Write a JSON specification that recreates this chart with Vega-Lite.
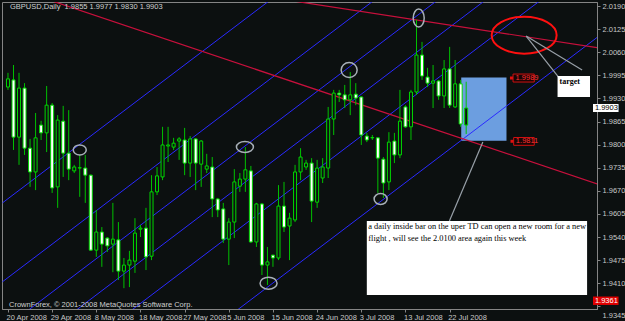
{
"$schema": "https://vega.github.io/schema/vega-lite/v6.json",
"width": 595, "height": 307,
"autosize": {"type": "none"},
"padding": {"left": 2, "top": 2, "right": 28, "bottom": 12},
"background": "#0c1010",
"config": {
 "view": {"stroke": "#858585", "strokeWidth": 1},
 "axis": {"grid": false, "domainColor": "#858585", "tickColor": "#858585", "labelColor": "#c8c8c8", "labelFont": "Liberation Sans", "labelFontSize": 7.5, "tickSize": 3, "labelOverlap": false, "labelFlush": false, "labelBound": false, "title": null},
 "axisX": {"labelAlign": "left", "labelPadding": 1, "labelOffset": -2},
 "axisY": {"labelPadding": 2, "labelBaseline": "middle"}
},
"datasets": {
 "candles": [
  {"i":0,"o":1.9962,"h":2.0002,"l":1.9954,"c":1.9985},
  {"i":1,"o":1.9982,"h":2.0024,"l":1.9785,"c":1.9821},
  {"i":2,"o":1.9821,"h":2.0002,"l":1.9743,"c":1.9959},
  {"i":3,"o":1.9959,"h":1.9973,"l":1.9771,"c":1.9790},
  {"i":4,"o":1.9790,"h":1.9816,"l":1.9681,"c":1.9723},
  {"i":5,"o":1.9723,"h":1.9889,"l":1.9672,"c":1.9819},
  {"i":6,"o":1.9855,"h":1.9867,"l":1.9813,"c":1.9833},
  {"i":7,"o":1.9833,"h":1.9965,"l":1.9779,"c":1.9911},
  {"i":8,"o":1.9911,"h":1.9917,"l":1.9664,"c":1.9678},
  {"i":9,"o":1.9681,"h":1.9883,"l":1.9622,"c":1.9869},
  {"i":10,"o":1.9866,"h":1.9909,"l":1.9709,"c":1.9776},
  {"i":11,"o":1.9776,"h":1.9897,"l":1.9700,"c":1.9731},
  {"i":12,"o":1.9726,"h":1.9743,"l":1.9720,"c":1.9737},
  {"i":13,"o":1.9734,"h":1.9771,"l":1.9653,"c":1.9735},
  {"i":14,"o":1.9734,"h":1.9771,"l":1.9636,"c":1.9714},
  {"i":15,"o":1.9714,"h":1.9716,"l":1.9501,"c":1.9503},
  {"i":16,"o":1.9503,"h":1.9616,"l":1.9484,"c":1.9554},
  {"i":17,"o":1.9554,"h":1.9568,"l":1.9456,"c":1.9520},
  {"i":18,"o":1.9537,"h":1.9540,"l":1.9498,"c":1.9515},
  {"i":19,"o":1.9520,"h":1.9636,"l":1.9441,"c":1.9534},
  {"i":20,"o":1.9532,"h":1.9582,"l":1.9419,"c":1.9444},
  {"i":21,"o":1.9444,"h":1.9481,"l":1.9396,"c":1.9461},
  {"i":22,"o":1.9461,"h":1.9501,"l":1.9399,"c":1.9475},
  {"i":23,"o":1.9472,"h":1.9593,"l":1.9439,"c":1.9551},
  {"i":24,"o":1.9562,"h":1.9574,"l":1.9540,"c":1.9565},
  {"i":25,"o":1.9565,"h":1.9622,"l":1.9447,"c":1.9484},
  {"i":26,"o":1.9486,"h":1.9714,"l":1.9475,"c":1.9667},
  {"i":27,"o":1.9667,"h":1.9737,"l":1.9658,"c":1.9712},
  {"i":28,"o":1.9709,"h":1.9850,"l":1.9700,"c":1.9799},
  {"i":29,"o":1.9796,"h":1.9850,"l":1.9751,"c":1.9799},
  {"i":30,"o":1.9793,"h":1.9819,"l":1.9785,"c":1.9804},
  {"i":31,"o":1.9810,"h":1.9821,"l":1.9757,"c":1.9816},
  {"i":32,"o":1.9813,"h":1.9847,"l":1.9714,"c":1.9748},
  {"i":33,"o":1.9748,"h":1.9824,"l":1.9709,"c":1.9816},
  {"i":34,"o":1.9816,"h":1.9818,"l":1.9672,"c":1.9748},
  {"i":35,"o":1.9745,"h":1.9813,"l":1.9681,"c":1.9810},
  {"i":36,"o":1.9731,"h":1.9774,"l":1.9720,"c":1.9740},
  {"i":37,"o":1.9737,"h":1.9765,"l":1.9596,"c":1.9647},
  {"i":38,"o":1.9647,"h":1.9650,"l":1.9596,"c":1.9616},
  {"i":39,"o":1.9619,"h":1.9636,"l":1.9523,"c":1.9534},
  {"i":40,"o":1.9534,"h":1.9593,"l":1.9461,"c":1.9582},
  {"i":41,"o":1.9582,"h":1.9731,"l":1.9537,"c":1.9695},
  {"i":42,"o":1.9683,"h":1.9720,"l":1.9667,"c":1.9703},
  {"i":43,"o":1.9703,"h":1.9793,"l":1.9667,"c":1.9729},
  {"i":44,"o":1.9726,"h":1.9740,"l":1.9523,"c":1.9526},
  {"i":45,"o":1.9526,"h":1.9636,"l":1.9512,"c":1.9633},
  {"i":46,"o":1.9633,"h":1.9635,"l":1.9433,"c":1.9461},
  {"i":47,"o":1.9461,"h":1.9512,"l":1.9405,"c":1.9470},
  {"i":48,"o":1.9489,"h":1.9490,"l":1.9456,"c":1.9481},
  {"i":49,"o":1.9481,"h":1.9686,"l":1.9475,"c":1.9627},
  {"i":50,"o":1.9627,"h":1.9695,"l":1.9554,"c":1.9568},
  {"i":51,"o":1.9571,"h":1.9608,"l":1.9475,"c":1.9593},
  {"i":52,"o":1.9588,"h":1.9743,"l":1.9582,"c":1.9723},
  {"i":53,"o":1.9723,"h":1.9790,"l":1.9700,"c":1.9765},
  {"i":54,"o":1.9737,"h":1.9757,"l":1.9729,"c":1.9748},
  {"i":55,"o":1.9748,"h":1.9762,"l":1.9582,"c":1.9641},
  {"i":56,"o":1.9638,"h":1.9757,"l":1.9622,"c":1.9734},
  {"i":57,"o":1.9706,"h":1.9762,"l":1.9692,"c":1.9737},
  {"i":58,"o":1.9734,"h":1.9906,"l":1.9706,"c":1.9872},
  {"i":59,"o":1.9872,"h":1.9954,"l":1.9827,"c":1.9945},
  {"i":60,"o":1.9945,"h":1.9954,"l":1.9920,"c":1.9940},
  {"i":61,"o":1.9940,"h":1.9968,"l":1.9903,"c":1.9926},
  {"i":62,"o":1.9926,"h":2.0004,"l":1.9883,"c":1.9940},
  {"i":63,"o":1.9942,"h":1.9973,"l":1.9911,"c":1.9931},
  {"i":64,"o":1.9934,"h":1.9936,"l":1.9799,"c":1.9827},
  {"i":65,"o":1.9824,"h":1.9833,"l":1.9807,"c":1.9813},
  {"i":66,"o":1.9819,"h":1.9827,"l":1.9813,"c":1.9820},
  {"i":67,"o":1.9819,"h":1.9821,"l":1.9664,"c":1.9762},
  {"i":68,"o":1.9759,"h":1.9765,"l":1.9650,"c":1.9692},
  {"i":69,"o":1.9695,"h":1.9835,"l":1.9672,"c":1.9807},
  {"i":70,"o":1.9810,"h":1.9833,"l":1.9748,"c":1.9771},
  {"i":71,"o":1.9771,"h":1.9954,"l":1.9762,"c":1.9866},
  {"i":72,"o":1.9906,"h":1.9911,"l":1.9847,"c":1.9850},
  {"i":73,"o":1.9850,"h":1.9954,"l":1.9813,"c":1.9948},
  {"i":74,"o":1.9948,"h":2.0151,"l":1.9940,"c":2.0052},
  {"i":75,"o":2.0052,"h":2.0089,"l":1.9982,"c":1.9993},
  {"i":76,"o":1.9990,"h":2.0016,"l":1.9962,"c":1.9973},
  {"i":77,"o":1.9973,"h":2.0024,"l":1.9903,"c":1.9979},
  {"i":78,"o":1.9979,"h":1.9982,"l":1.9926,"c":1.9937},
  {"i":79,"o":1.9937,"h":2.0038,"l":1.9903,"c":2.0013},
  {"i":80,"o":2.0013,"h":2.0075,"l":1.9903,"c":1.9911},
  {"i":81,"o":1.9906,"h":2.0038,"l":1.9903,"c":1.9971},
  {"i":82,"o":1.9971,"h":1.9982,"l":1.9850,"c":1.9858},
  {"i":83,"o":1.9855,"h":1.9977,"l":1.9830,"c":1.9903}
 ],
 "channels": [
  {"i":-1,"i2":107,"p":1.9636,"p2":2.0907},
  {"i":-1,"i2":107,"p":1.9414,"p2":2.0685},
  {"i":-1,"i2":107,"p":1.9279,"p2":2.0550},
  {"i":-1,"i2":107,"p":1.9177,"p2":2.0448},
  {"i":-1,"i2":107,"p":1.9059,"p2":2.0330},
  {"i":-1,"i2":107,"p":1.8834,"p2":2.0105}
 ],
 "trends": [
  {"i":-1,"i2":107,"p":2.0251,"p2":1.9688},
  {"i":-1,"i2":107,"p":2.0330,"p2":2.0072}
 ],
 "arrows": [
  {"i":93.86,"i2":99.73,"p":2.01056,"p2":1.99902},
  {"i":93.86,"i2":104.0,"p":2.01056,"p2":2.00099},
  {"i":86.02,"i2":79.96,"p":1.98073,"p2":1.9585}
 ],
 "marks": [
  {"id":"e1","i":13.0,"p":1.9785},
  {"id":"e2","i":42.92,"p":1.9793},
  {"id":"e3","i":47.2,"p":1.9410},
  {"id":"e4","i":61.8,"p":2.0010},
  {"id":"e5","i":74.4,"p":2.0156},
  {"id":"e6","i":67.5,"p":1.9647}
 ]
},
"layer": [
 {
  "data": {"values": [{"i":82.1,"i2":90.3,"p":1.9811,"p2":1.9989}]},
  "mark": {"type": "rect", "fill": "#6c9ee0"},
  "encoding": {
   "x": {"field": "i", "type": "quantitative", "title": null, "scale": {"domain": [-0.178, 105.79], "nice": false, "zero": false},
         "axis": {"values": [0,8,16,24,32,40,48,56,64,72,80], "tickCount": 40, "labelOverlap": false, "labelExpr": "['20 Apr 2008','29 Apr 2008','8 May 2008','18 May 2008','27 May 2008','5 Jun 2008','15 Jun 2008','24 Jun 2008','3 Jul 2008','13 Jul 2008','22 Jul 2008'][round(datum.value/8)]"}},
   "x2": {"field": "i2"},
   "y": {"field": "p", "type": "quantitative", "title": null, "scale": {"domain": [1.93374, 2.02013], "nice": false, "zero": false},
         "axis": {"orient": "right", "tickCount": 40, "labelOverlap": false, "values": [2.019,2.0125,2.006,1.9995,1.993,1.9865,1.98,1.9735,1.967,1.9605,1.954,1.9475,1.941,1.9345], "format": ".4f",
                  "labelOffset": {"condition": {"test": "datum.value < 1.936", "value": 9}, "value": 0}}},
   "y2": {"field": "p2"}
  }
 },
 {
  "mark": {"type": "rule", "color": "#8a8a8a", "strokeDash": [3,2], "strokeWidth": 1},
  "encoding": {"y": {"datum": 1.9903, "type": "quantitative", "scale": {"domain": [1.93374, 2.02013], "nice": false, "zero": false}}}
 },
 {
  "mark": {"type": "rule", "color": "#e01010", "strokeWidth": 1},
  "encoding": {"y": {"datum": 1.9361, "type": "quantitative", "scale": {"domain": [1.93374, 2.02013], "nice": false, "zero": false}}}
 },
 {
  "data": {"name": "channels"},
  "mark": {"type": "rule", "color": "#2a2aff", "strokeWidth": 1, "clip": true},
  "encoding": {"x": {"field": "i", "type": "quantitative", "title": null}, "x2": {"field": "i2"}, "y": {"field": "p", "type": "quantitative", "title": null}, "y2": {"field": "p2"}}
 },
 {
  "data": {"name": "trends"},
  "mark": {"type": "rule", "color": "#c8103c", "strokeWidth": 1.2, "clip": true},
  "encoding": {"x": {"field": "i", "type": "quantitative", "title": null}, "x2": {"field": "i2"}, "y": {"field": "p", "type": "quantitative", "title": null}, "y2": {"field": "p2"}}
 },
 {
  "data": {"name": "candles"},
  "mark": {"type": "rule", "color": "#00c000", "strokeWidth": 1},
  "encoding": {"x": {"field": "i", "type": "quantitative", "title": null}, "y": {"field": "l", "type": "quantitative", "title": null}, "y2": {"field": "h"}}
 },
 {
  "data": {"name": "candles"},
  "mark": {"type": "bar", "size": 3, "stroke": "#00d800", "strokeWidth": 1},
  "encoding": {"x": {"field": "i", "type": "quantitative", "title": null}, "y": {"field": "o", "type": "quantitative", "title": null}, "y2": {"field": "c"},
   "fill": {"condition": {"test": "datum.o > datum.c", "value": "#ffffff"}, "value": "#0c1010"}}
 },
 {
  "data": {"name": "marks"},
  "mark": {"type": "point", "filled": false, "stroke": "#a8b0b8", "strokeWidth": 1.5, "size": 4, "opacity": 1},
  "encoding": {"x": {"field": "i", "type": "quantitative", "title": null}, "y": {"field": "p", "type": "quantitative", "title": null},
   "shape": {"field": "id", "type": "nominal", "legend": null, "scale": {"domain": ["e1","e2","e3","e4","e5","e6"], "range": [
     "M-6.5,0A6.5,5,0,1,1,6.5,0A6.5,5,0,1,1,-6.5,0Z",
     "M-8.5,0A8.5,5.5,0,1,1,8.5,0A8.5,5.5,0,1,1,-8.5,0Z",
     "M-8.5,0A8.5,6,0,1,1,8.5,0A8.5,6,0,1,1,-8.5,0Z",
     "M-8,0A8,7.5,0,1,1,8,0A8,7.5,0,1,1,-8,0Z",
     "M-5.5,0A5.5,9,0,1,1,5.5,0A5.5,9,0,1,1,-5.5,0Z",
     "M-6.5,0A6.5,5.5,0,1,1,6.5,0A6.5,5.5,0,1,1,-6.5,0Z"]}}}
 },
 {
  "data": {"values": [{"i":93.5,"p":2.0108}]},
  "mark": {"type": "point", "filled": false, "stroke": "#ff1010", "strokeWidth": 2, "size": 4, "opacity": 1, "shape": "M-32.5,0A32.5,18.5,0,1,1,32.5,0A32.5,18.5,0,1,1,-32.5,0Z"},
  "encoding": {"x": {"field": "i", "type": "quantitative", "title": null}, "y": {"field": "p", "type": "quantitative", "title": null}}
 },
 {
  "data": {"name": "arrows"},
  "mark": {"type": "rule", "color": "#98a0a8", "strokeWidth": 1.2},
  "encoding": {"x": {"field": "i", "type": "quantitative", "title": null}, "x2": {"field": "i2"}, "y": {"field": "p", "type": "quantitative", "title": null}, "y2": {"field": "p2"}}
 },
 {
  "data": {"values": [
   {"i":65.0,"i2":104.9,"p":1.9585,"p2":1.93767,"kind":"note"},
   {"i":99.55,"i2":105.43,"p":1.9993,"p2":1.99339,"kind":"target"},
   {"i":105.97,"i2":110.6,"p":1.99142,"p2":1.98917,"kind":"bid"}
  ]},
  "mark": {"type": "rect", "fill": "#ffffff"},
  "encoding": {"x": {"field": "i", "type": "quantitative", "title": null}, "x2": {"field": "i2"}, "y": {"field": "p", "type": "quantitative", "title": null}, "y2": {"field": "p2"}}
 },
 {
  "data": {"values": [{"i":105.97,"i2":110.6,"p":1.93725,"p2":1.93488}]},
  "mark": {"type": "rect", "fill": "#e00000"},
  "encoding": {"x": {"field": "i", "type": "quantitative", "title": null}, "x2": {"field": "i2"}, "y": {"field": "p", "type": "quantitative", "title": null}, "y2": {"field": "p2"}}
 },
 {
  "data": {"values": [{"i":91.49,"i2":95.33,"p":1.99986,"p2":1.99761},{"i":91.6,"i2":95.33,"p":1.982,"p2":1.9798}]},
  "mark": {"type": "rect", "fill": "#1a0505", "stroke": "#d01010", "strokeWidth": 1},
  "encoding": {"x": {"field": "i", "type": "quantitative", "title": null}, "x2": {"field": "i2"}, "y": {"field": "p", "type": "quantitative", "title": null}, "y2": {"field": "p2"}}
 },
 {
  "data": {"values": [{"i":91.2,"p":1.99874},{"i":91.3,"p":1.98093}]},
  "mark": {"type": "point", "shape": "square", "filled": true, "color": "#e01010", "size": 9, "opacity": 1},
  "encoding": {"x": {"field": "i", "type": "quantitative", "title": null}, "y": {"field": "p", "type": "quantitative", "title": null}}
 },
 {
  "data": {"values": [{"i":91.95,"p":1.99874,"t":"1.9989"},{"i":92.0,"p":1.98093,"t":"1.9811"}]},
  "mark": {"type": "text", "align": "left", "baseline": "middle", "color": "#ff3030", "font": "Liberation Sans", "fontSize": 7.5},
  "encoding": {"x": {"field": "i", "type": "quantitative", "title": null}, "y": {"field": "p", "type": "quantitative", "title": null}, "text": {"field": "t"}}
 },
 {
  "data": {"values": [
   {"i":65.27,"p":1.95709,"t":"a daily inside bar on the uper TD can open a new room for a new"},
   {"i":65.27,"p":1.95372,"t":"flight , will see the 2.0100 area again this week"}
  ]},
  "mark": {"type": "text", "align": "left", "baseline": "middle", "color": "#000000", "font": "Liberation Serif", "fontSize": 8.4},
  "encoding": {"x": {"field": "i", "type": "quantitative", "title": null}, "y": {"field": "p", "type": "quantitative", "title": null}, "text": {"field": "t"}}
 },
 {
  "data": {"values": [{"i":99.9,"p":1.99761,"t":"target"}]},
  "mark": {"type": "text", "align": "left", "baseline": "middle", "color": "#000000", "font": "Liberation Serif", "fontSize": 8, "fontWeight": "bold"},
  "encoding": {"x": {"field": "i", "type": "quantitative", "title": null}, "y": {"field": "p", "type": "quantitative", "title": null}, "text": {"field": "t"}}
 },
 {
  "data": {"values": [
   {"i":0.36,"p":2.01872,"t":"GBPUSD,Daily\u00a0 1.9855 1.9977 1.9830 1.9903"},
   {"i":0.18,"p":1.935,"t":"CrownForex, © 2001-2008 MetaQuotes Software Corp."}
  ]},
  "mark": {"type": "text", "align": "left", "baseline": "middle", "color": "#d0d0d0", "font": "Liberation Sans", "fontSize": 7.5},
  "encoding": {"x": {"field": "i", "type": "quantitative", "title": null}, "y": {"field": "p", "type": "quantitative", "title": null}, "text": {"field": "t"}}
 },
 {
  "data": {"values": [{"i":106.32,"p":1.9903,"t":"1.9903","k":"bid"},{"i":106.32,"p":1.9361,"t":"1.9361","k":"red"}]},
  "mark": {"type": "text", "align": "left", "baseline": "middle", "font": "Liberation Sans", "fontSize": 7.5},
  "encoding": {"x": {"field": "i", "type": "quantitative", "title": null}, "y": {"field": "p", "type": "quantitative", "title": null}, "text": {"field": "t"},
   "color": {"field": "k", "type": "nominal", "legend": null, "scale": {"domain": ["bid","red"], "range": ["#000000","#ffffff"]}}}
 }
]
}
